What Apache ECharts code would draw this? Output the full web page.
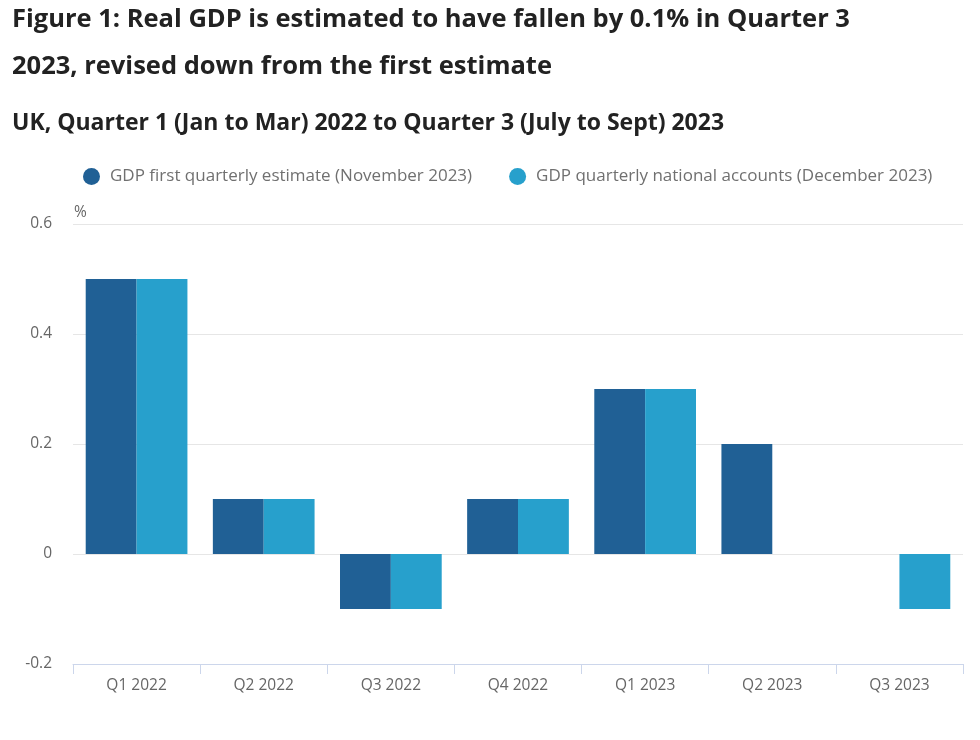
<!DOCTYPE html>
<html>
<head>
<meta charset="utf-8">
<script src="https://cdn.jsdelivr.net/npm/echarts@6/dist/echarts.min.js"></script>
<style>
html,body{margin:0;padding:0;background:#fff;}
#chart{width:980px;height:740px;}
</style>
</head>
<body>
<div id="chart"></div>
<script>
const categories = ["Q1 2022","Q2 2022","Q3 2022","Q4 2022","Q1 2023","Q2 2023","Q3 2023"];
const firstEstimate = [0.5, 0.1, -0.1, 0.1, 0.3, 0.2, 0.0];
const nationalAccounts = [0.5, 0.1, -0.1, 0.1, 0.3, 0.0, -0.1];
const seriesNames = ["GDP first quarterly estimate (November 2023)", "GDP quarterly national accounts (December 2023)"];
const yTicks = {min: -0.2, max: 0.6, interval: 0.2};

const chart = echarts.init(document.getElementById('chart'), null, {renderer:'canvas'});
const font = '"Open Sans", sans-serif';
chart.setOption({
  animation: false,
  textStyle: {fontFamily: font},
  title: [
    {text: "Figure 1: Real GDP is estimated to have fallen by 0.1% in Quarter 3\n2023, revised down from the first estimate",
     left: 7, top: -9,
     textStyle: {fontFamily: font, fontSize: 25.5, fontWeight: 'bold', color: '#222', lineHeight: 47}},
    {text: "UK, Quarter 1 (Jan to Mar) 2022 to Quarter 3 (July to Sept) 2023",
     left: 7, top: 107,
     textStyle: {fontFamily: font, fontSize: 23, fontWeight: 'bold', color: '#222'}}
  ],
  legend: {
    top: 163, left: 78,
    icon: 'circle', itemWidth: 17, itemHeight: 17, itemGap: 37,
    textStyle: {fontFamily: font, fontSize: 17, color: '#707070', padding: [0,0,0,5]},
    data: seriesNames
  },
  grid: {left: 73, right: 17, top: 224, bottom: 76},
  xAxis: {
    type: 'category', data: categories,
    axisLine: {show: true, onZero: false, lineStyle: {color: '#ccd6eb'}},
    axisTick: {show: true, length: 10, lineStyle: {color: '#ccd6eb'}},
    axisLabel: {fontFamily: font, fontSize: 15.5, color: '#666', margin: 14}
  },
  yAxis: {
    type: 'value', min: yTicks.min, max: yTicks.max, interval: yTicks.interval,
    name: '%', nameLocation: 'end', nameGap: 3,
    nameTextStyle: {fontFamily: font, fontSize: 15.5, color: '#666', align: 'left', padding: [0,0,0,1]},
    axisLine: {show: false}, axisTick: {show: false},
    axisLabel: {fontFamily: font, fontSize: 15.5, color: '#666', margin: 21,
      formatter: v => (Math.round(v*10)/10).toString()},
    splitLine: {lineStyle: {color: '#e6e6e6'}}
  },
  series: [
    {name: seriesNames[0], type: 'bar', data: firstEstimate, itemStyle: {color: '#206095'},
     barGap: '0%', barCategoryGap: '20%'},
    {name: seriesNames[1], type: 'bar', data: nationalAccounts, itemStyle: {color: '#27a0cc'},
     barGap: '0%', barCategoryGap: '20%'}
  ]
});
</script>
</body>
</html>
